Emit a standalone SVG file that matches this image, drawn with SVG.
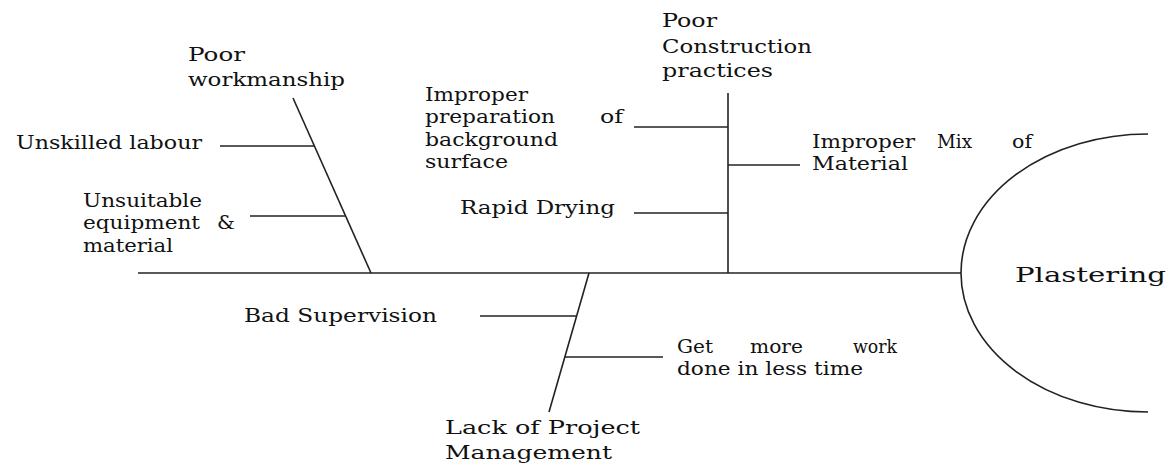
<svg xmlns="http://www.w3.org/2000/svg" width="1176" height="465" viewBox="0 0 1176 465">
<style>
text{font-family:"DejaVu Serif","Liberation Serif",serif;font-size:19px;fill:#111}
.ln{stroke:#222;stroke-width:1.6;fill:none}
</style>
<rect width="1176" height="465" fill="#fff"/>
<g id="connectors">
<path class="ln" d="M138,273 H961"/>
<path class="ln" d="M293,98 L371,273"/>
<path class="ln" d="M220,146 H314"/>
<path class="ln" d="M250,216 H345"/>
<path class="ln" d="M728,93 V273"/>
<path class="ln" d="M634,127 H728"/>
<path class="ln" d="M728,165 H800"/>
<path class="ln" d="M634,213 H728"/>
<path class="ln" d="M589,273 L549,412"/>
<path class="ln" d="M480,316 H576"/>
<path class="ln" d="M565,357 H663"/>
</g>
<g id="head">
<path class="ln" d="M1148,134 A187,139 0 0 0 1148,412"/>
<text x="1015" y="282" style="font-size:21px" textLength="151" lengthAdjust="spacingAndGlyphs">Plastering</text>
</g>
<g id="poor-workmanship">
<text x="188" y="61" textLength="57" lengthAdjust="spacingAndGlyphs">Poor</text>
<text x="188" y="86" textLength="157" lengthAdjust="spacingAndGlyphs">workmanship</text>
</g>
<g id="unskilled-labour">
<text x="16" y="149" textLength="186" lengthAdjust="spacingAndGlyphs">Unskilled labour</text>
</g>
<g id="unsuitable-equipment">
<text x="83" y="207" textLength="119" lengthAdjust="spacingAndGlyphs">Unsuitable</text>
<text y="229"><tspan x="83" textLength="117" lengthAdjust="spacingAndGlyphs">equipment</tspan><tspan x="217" textLength="18" lengthAdjust="spacingAndGlyphs">&amp;</tspan></text>
<text x="83" y="252" textLength="90" lengthAdjust="spacingAndGlyphs">material</text>
</g>
<g id="poor-construction">
<text x="662" y="27" textLength="55" lengthAdjust="spacingAndGlyphs">Poor</text>
<text x="662" y="53" textLength="150" lengthAdjust="spacingAndGlyphs">Construction</text>
<text x="662" y="77" textLength="111" lengthAdjust="spacingAndGlyphs">practices</text>
</g>
<g id="improper-preparation">
<text x="425" y="101" textLength="103" lengthAdjust="spacingAndGlyphs">Improper</text>
<text y="123"><tspan x="425" textLength="130" lengthAdjust="spacingAndGlyphs">preparation</tspan><tspan x="600" textLength="23" lengthAdjust="spacingAndGlyphs">of</tspan></text>
<text x="425" y="146" textLength="133" lengthAdjust="spacingAndGlyphs">background</text>
<text x="425" y="168" textLength="83" lengthAdjust="spacingAndGlyphs">surface</text>
</g>
<g id="rapid-drying">
<text x="460" y="214" textLength="155" lengthAdjust="spacingAndGlyphs">Rapid Drying</text>
</g>
<g id="improper-mix">
<text y="148"><tspan x="812" textLength="103" lengthAdjust="spacingAndGlyphs">Improper</tspan><tspan x="937" textLength="35" lengthAdjust="spacingAndGlyphs">Mix</tspan><tspan x="1012" textLength="20" lengthAdjust="spacingAndGlyphs">of</tspan></text>
<text x="812" y="170" textLength="96" lengthAdjust="spacingAndGlyphs">Material</text>
</g>
<g id="bad-supervision">
<text x="244" y="322" textLength="193" lengthAdjust="spacingAndGlyphs">Bad Supervision</text>
</g>
<g id="more-work">
<text y="353"><tspan x="677" textLength="36" lengthAdjust="spacingAndGlyphs">Get</tspan><tspan x="750" textLength="53" lengthAdjust="spacingAndGlyphs">more</tspan><tspan x="853" textLength="44" lengthAdjust="spacingAndGlyphs">work</tspan></text>
<text x="677" y="375" textLength="186" lengthAdjust="spacingAndGlyphs">done in less time</text>
</g>
<g id="lack-of-pm">
<text x="445" y="434" textLength="195" lengthAdjust="spacingAndGlyphs">Lack of Project</text>
<text x="445" y="459" textLength="167" lengthAdjust="spacingAndGlyphs">Management</text>
</g>
</svg>
